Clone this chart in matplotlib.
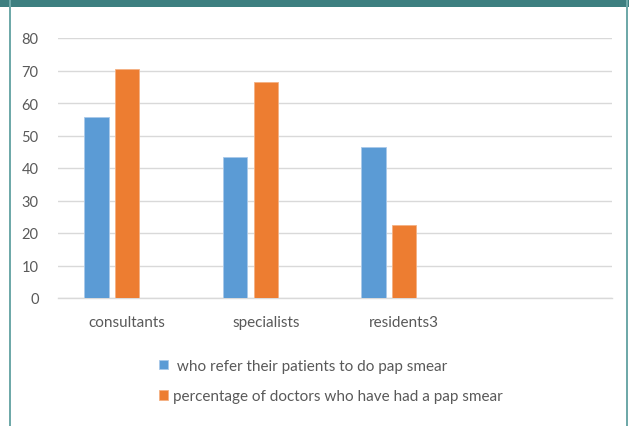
import matplotlib
matplotlib.use("Agg")
import matplotlib.pyplot as plt
from matplotlib.patches import Rectangle
import numpy as np

categories = ["consultants", "specialists", "residents3", ""]
series_names = [" who refer their patients to do pap smear",
                "percentage of doctors who have had a pap smear"]
refer_vals = [55.7, 43.4, 46.4]
had_vals = [70.6, 66.5, 22.6]
yticks = [0, 10, 20, 30, 40, 50, 60, 70, 80]

plt.rcParams['font.family'] = ['Lato', 'DejaVu Sans']
text_color = "#595959"
blue = "#5b9bd5"
orange = "#ed7d31"

W, H = 629, 427
fig = plt.figure(figsize=(W / 100, H / 100), dpi=100)
fig.patch.set_facecolor("white")

# frame
fig.patches.append(Rectangle((0, 1 - 8 / H), 1, 8 / H, transform=fig.transFigure,
                             facecolor="#3d7f80", edgecolor="none"))
fig.patches.append(Rectangle((9 / W, 0), 2 / W, 1, transform=fig.transFigure,
                             facecolor="#6fa9a9", edgecolor="none"))
fig.patches.append(Rectangle((626 / W, 0), 2 / W, 1, transform=fig.transFigure,
                             facecolor="#6fa9a9", edgecolor="none"))

ax = fig.add_axes([58 / W, 128 / H, 554 / W, 260 / H])
x = np.arange(len(refer_vals))
bw = 0.176
off = 0.223
b1 = ax.bar(x - off, refer_vals, width=bw, color=blue, edgecolor="#a9c9ea",
            linewidth=0.6, label=series_names[0], zorder=3)
b2 = ax.bar(x, had_vals, width=bw, color=orange, edgecolor="#f4b183",
            linewidth=0.6, label=series_names[1], zorder=3)

ax.set_xlim(-0.5, len(categories) - 0.5)
ax.set_ylim(0, 80)
ax.set_yticks(yticks)
ax.set_yticklabels([str(v) for v in yticks])
ax.set_xticks(np.arange(len(categories)))
ax.set_xticklabels(categories)
ax.grid(axis="y", color="#d9d9d9", linewidth=1, zorder=0)
ax.set_axisbelow(True)
for s in ["top", "right", "left"]:
    ax.spines[s].set_visible(False)
ax.spines["bottom"].set_color("#d9d9d9")
ax.spines["bottom"].set_linewidth(1)
ax.tick_params(axis="y", length=0, colors=text_color, labelsize=10.5, pad=14)
ax.tick_params(axis="x", length=0, colors=text_color, labelsize=11, pad=12)

leg = fig.legend(handles=[b1, b2], loc="upper left",
                 bbox_to_anchor=(159 / W, 1 - 360 / H), frameon=False,
                 fontsize=11, handlelength=0.6, handleheight=0.6,
                 handletextpad=0.3, labelspacing=1.05, labelcolor=text_color,
                 borderpad=0, borderaxespad=0)

fig.savefig("out.png", dpi=100, facecolor="white")
